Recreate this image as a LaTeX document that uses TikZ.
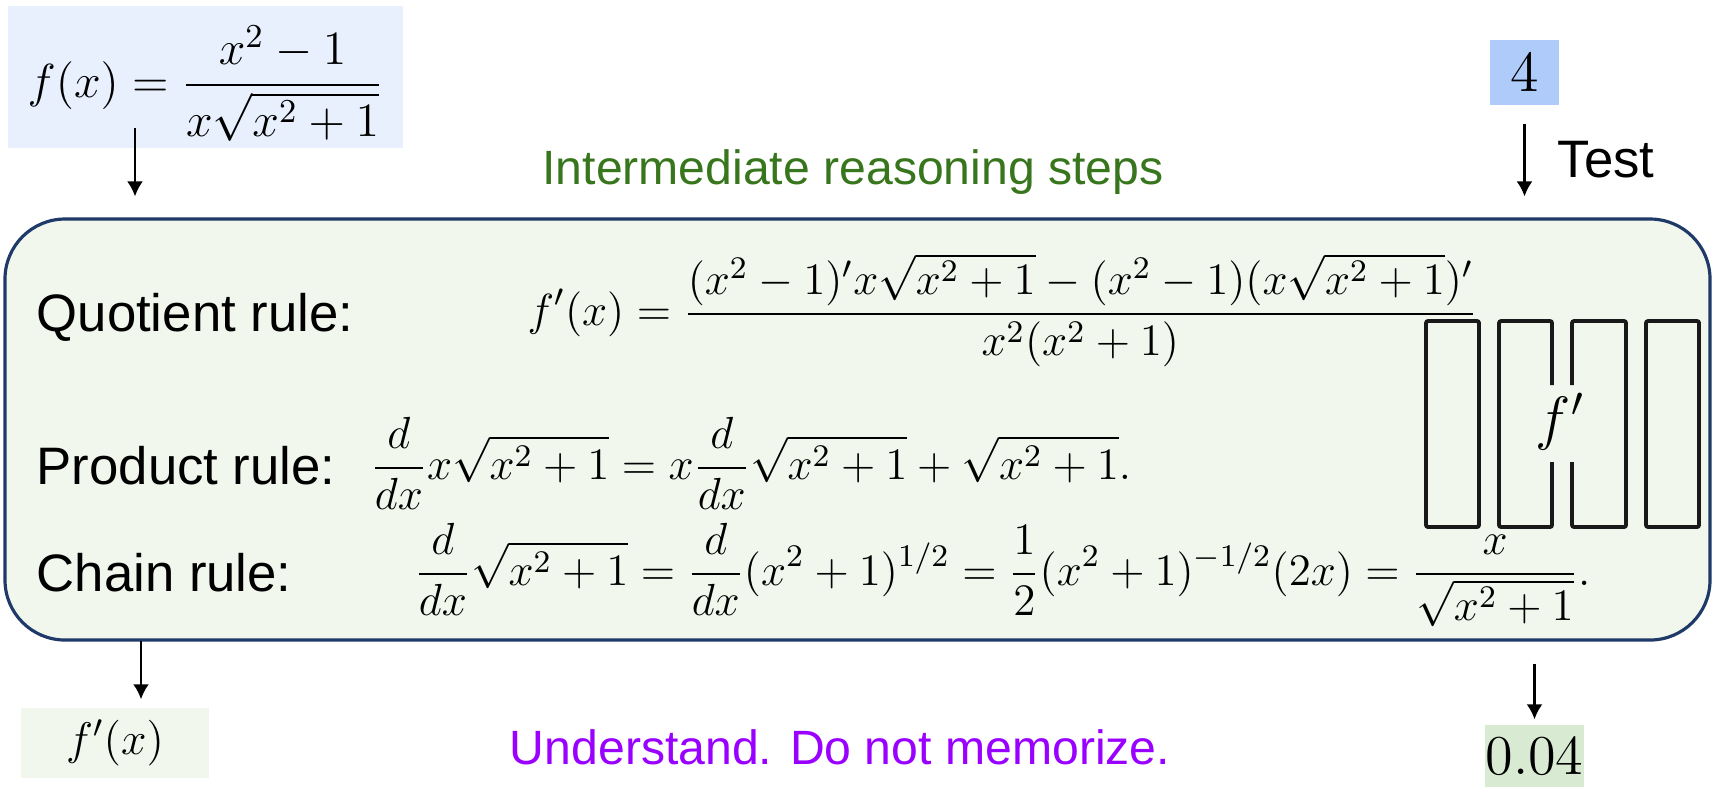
\RequirePackage{fix-cm}
\documentclass[tikz,border=0pt]{standalone}
\usepackage{amsmath}
\usepackage{fontspec}
\newfontfamily\slidefont{Liberation Sans}
\usetikzlibrary{arrows.meta,positioning,calc}
\definecolor{panelfill}{HTML}{F1F7ED}
\definecolor{paneldraw}{HTML}{1F3A68}
\definecolor{inblue}{HTML}{E8F0FE}
\definecolor{testblue}{HTML}{AECBFA}
\definecolor{resgreen}{HTML}{D9EAD3}
\definecolor{stepgreen}{HTML}{38761D}
\definecolor{mottopurple}{HTML}{9900FF}
\tikzset{
  >={Latex[length=1.5mm,width=1.6mm]},
  flow/.style={->, draw=black, line width=0.7pt},
  rulelbl/.style={anchor=base west, inner sep=0pt, font=\slidefont\fontsize{15}{18}\selectfont},
  eqn/.style={anchor=base west, inner sep=0pt, font=\fontsize{12.8}{15}\selectfont},
  note/.style={inner sep=0pt, font=\slidefont\fontsize{13.7}{16}\selectfont},
  valbox/.style={inner sep=0pt, font=\fontsize{16.5}{19}\selectfont},
  net/.style={draw=black!90, line width=1.1pt, rounded corners=0.6pt},
}

\begin{document}
\begin{tikzpicture}
\useasboundingbox (0,0) rectangle (17.15,-7.87);

% ───────────── input and test point ─────────────
\node[fill=inblue, inner sep=0pt, minimum width=3.95cm, text height=0.91cm, text depth=0.51cm,
      anchor=base, font=\fontsize{13.6}{16}\selectfont] (fx) at (2.055,-0.97) {$\displaystyle f(x)=\frac{x^2-1}{x\sqrt{x^2+1}}$};
\node[valbox, fill=testblue, minimum width=0.69cm, minimum height=0.65cm] (four) at (15.245,-0.725) {$4$};
\node[rulelbl] (test) at (15.57,-1.77) {Test};
\node[note, text=stepgreen] (steps) at (8.53,-1.72) {Intermediate reasoning steps};

% ───────────── reasoning panel ─────────────
\node[draw=paneldraw, fill=panelfill, line width=0.9pt, rounded corners=0.6cm,
      minimum width=17.05cm, minimum height=4.21cm, inner sep=0pt] (panel) at (8.575,-4.295) {};

\node[rulelbl] (qlbl) at (0.36,-3.31) {Quotient rule:};
\node[eqn] (qeq) at (5.27,-3.25) {$\displaystyle f'(x)=\frac{(x^2-1)'x\sqrt{x^2+1}-(x^2-1)(x\sqrt{x^2+1})'}{x^2(x^2+1)}$};
\node[rulelbl] (plbl) at (0.36,-4.84) {Product rule:};
\node[eqn] (peq) at (3.70,-4.79) {$\displaystyle \frac{d}{dx}x\sqrt{x^2+1}=x\frac{d}{dx}\sqrt{x^2+1}+\sqrt{x^2+1}.$};
\node[rulelbl] (clbl) at (0.36,-5.91) {Chain rule:};
\node[eqn] (ceq) at (4.14,-5.85) {$\displaystyle \frac{d}{dx}\sqrt{x^2+1}=\frac{d}{dx}(x^2+1)^{1/2}=\frac12(x^2+1)^{-1/2}(2x)=\frac{x}{\sqrt{x^2+1}}.$};

% network computing f'
\foreach \x in {14.26,16.46}
  \draw[net] (\x,-3.21) rectangle ++(0.53,-2.06);
\draw[net] (15.52,-3.85) -- (15.52,-3.21) -- (14.99,-3.21) -- (14.99,-5.27) -- (15.52,-5.27) -- (15.52,-4.62);
\draw[net] (15.72,-3.85) -- (15.72,-3.21) -- (16.26,-3.21) -- (16.26,-5.27) -- (15.72,-5.27) -- (15.72,-4.62);
\node[valbox, font=\fontsize{17}{20}\selectfont] (fnet) at (15.6,-4.22) {$f'$};

% ───────────── outputs ─────────────
\node[valbox, fill=panelfill, font=\fontsize{13}{15}\selectfont, minimum width=1.88cm, minimum height=0.70cm] (fpx) at (1.15,-7.43) {$f'(x)$};
\node[valbox, fill=resgreen, font=\fontsize{16}{19}\selectfont, minimum width=0.99cm, minimum height=0.62cm] (res) at (15.345,-7.56) {$0.04$};
\node[note, text=mottopurple] (motto) at (8.40,-7.47) {Understand. Do not memorize.};

% arrows
\coordinate (fxout) at (1.35,-1.28);
\coordinate (gradout) at (1.41,-6.41);
\draw[flow, shorten >=0.21cm] (fxout) -- (fxout |- panel.north);
\draw[flow, shorten <=0.18cm, shorten >=0.21cm] (four.south) -- (four.south |- panel.north);
\draw[flow, shorten >=0.08cm] (gradout) -- (gradout |- fpx.north);
\draw[flow, shorten <=0.22cm, shorten >=0.05cm] (res.north |- panel.south) -- (res.north);

\end{tikzpicture}
\end{document}
